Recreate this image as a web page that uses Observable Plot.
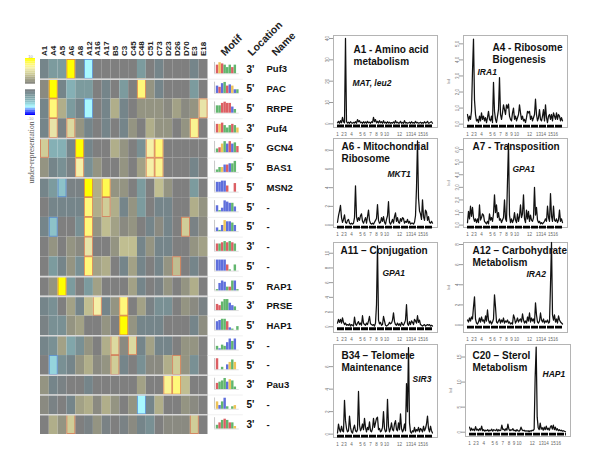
<!DOCTYPE html>
<html>
<head>
<meta charset="utf-8">
<script src="https://cdn.jsdelivr.net/npm/d3@7"></script>
<script src="https://cdn.jsdelivr.net/npm/@observablehq/plot@0.6"></script>
<style>
html,body{margin:0;padding:0;background:#fff}
#chart{position:relative;width:600px;height:450px;overflow:hidden}
#chart svg{position:absolute}
</style>
</head>
<body>
<div id="chart"></div>
<script>
const columns = ["A1","A4","A5","A6","A8","A12","A16","A17","B5","C3","C45","C48","C51","C73","D23","D26","D70","E3","E18"];
const locations = ["3'","5'","5'","3'","5'","5'","5'","5'","5'","3'","5'","5'","3'","5'","5'","5'","3'","5'","3'"];
const names = ["Puf3","PAC","RRPE","Puf4","GCN4","BAS1","MSN2","-","-","-","-","RAP1","PRSE","HAP1","-","-","Pau3","-","-"];
const heat = [
[-1,-2,-2,7,-1,-5,0,0,0,0,0,-2,0,-1,0,0,0,-1,0],
[.5,7,-1,-3,-2,-2,0,-1,0,-2,0,5.5,1,-1,0,0,0,-2,0],
[-1,5.5,2,-2,-1,-5,0,-1,2,-1,0,1,1,1,.5,1.5,.5,1,4],
[-1,4,-.5,3.5,1,-1,0,-1,0,-1,1,0,2,1,1,0,1,5,0],
[3,-3,-3,-1,7,-1,0,0,2,1,0,-1.5,4.5,5.5,0,0,0,0,0],
[1,-1,-1.5,-.5,4.5,-1.5,1,0,0,1,0,1.5,4.5,5,0,0,0,-1,0],
[-1,-2,-3.5,-.5,-.5,7,2,6,1,1,0,-2,0,2.5,1,0,0,-2,0],
[0,-1,-1,-1,-1,5.5,2,3,2,-1,1,-2,0,-1,-1,0,0,2,1],
[-1,-3.5,0,0,-1.5,5.5,1,2.5,1.5,.5,1,0,-1,.5,-1,0,3,-.5,.5],
[0,1,0,1,.5,4,0,0,1,2.5,2.5,-1,1,-1,-1,0,0,1,1.5],
[0,-2,-1,1,-1.5,5.5,1.5,2,0,-1,1.5,-1,0,-1,1,2.5,0,-1,0],
[0,1,7,-2,0,-2,1.5,0,0,0,1.5,-1,0,-.5,1,0,1,2,0],
[-1,-1.5,0,1.5,-1,2.5,4.5,-1,1,5.5,0,1.5,-.5,-1.5,-1.5,0,1,.5,-.5],
[-.5,-1.5,-1.5,1,1.5,0,0,1,0,7,1,-1,-1,-1,0,0,0,-1,.7],
[-1,-1.5,1.5,-2.5,-1.5,1,0,2,3.5,.5,3.5,-1,1.5,-1,-1,0,1,1,0],
[0,-4,-1.5,-1,1,2,.5,1,3,-1,0,-1.5,.5,.5,2,3,1,-1.5,0],
[1,-1,-.5,0,0,-1,0,0,0,0,0,1.5,0,0,5,5.5,2.5,0,0],
[.5,-.5,0,-1,1.5,2,.5,2,1,0,1,-5,-1,2,0,0,1,.5,0],
[0,2,1,3,0,-.5,1,-.5,0,-.5,.5,-1,-1.5,0,.5,.5,.5,3,0]
];
const overCells = [[0,3],[1,1],[1,11],[2,1],[2,18],[3,1],[3,3],[3,17],[4,0],[4,4],[4,12],[4,13],[5,4],[5,12],[5,13],[6,5],[6,7],[7,5],[7,7],[8,5],[8,16],[9,5],[10,5],[10,15],[11,2],[12,6],[12,9],[13,9],[14,8],[14,10],[15,8],[15,15],[16,14],[16,15],[18,3],[18,17]];
const underCells = [[0,5],[2,5],[6,2],[8,1],[15,1],[17,11]];
const groupEnds = [1,4,6,11,12,14,16,17,18];
const heatStops = [-7,-6,-5,-4,-3,-2,-1,0,1,2,3,4,4.5,5.5,7];
const heatColors = ["#0000ff","#5070ff","#a8f8ff","#95d4dc","#85b0b5","#7c9b9e","#75858a","#7f7f7f","#949482","#b0ae8a","#d0cd98","#e8e4a8","#f5f0a8","#fff87a","#ffff00"];
const legendLevels = [7,6.5,6,5.5,5,4.5,4,3.5,3,2.5,2,1.5,1,.5,null,null,null,-.5,-1,-1.5,-2,-2.5,-3,-3.5,-4,-4.5,-5,-5.5,-6,-6.5,-7];

const logoLetters = ["TGTAAATA.","CTCATCGCA","AATTTTCA.","TGTAAATAG","ATGACTCAT","AAGCTCAA.","CCCCT..T.","CACCCCAC.","CACGCCAC.","TATATATA.","CCCCTA.A.","ACCCATACA","TTAAACCA.","CCAATCA.A","ACAACCAC.","T.A.CGAG.","TAAACGAA.","GCACA.AG.","ATATATAG."];
const logoHeights = ["798757573","658967633","668988532","778646764","347979785","244667793","889951170","513987740","315988750","667878760","999951250","168733881","547996430","789972153","314369790","912146863","567968720","636921233","357875520"];
const logoColors = {A:"#2e9e3e",C:"#2a3fd0",G:"#e8b020",T:"#d02a30"};

const chromTicks = [4,9,12,18,27,31,37,43,48,53,66,75,80,87,92];
const chromLabels = ["1","2","3","4","5","6","7","8","9","10","12","13","14","15","16"];

const a1 = [.5,1.2,.3,1.5,.5,3,1,.5,40,1,.4,.8,.3,1,.5,.3,.7,.4,1,.3,2,1,1.5,.5,.8,.3,1,.4,.9,.3,1.2,.5,.8,.3,1,.6,3,1,2,.5,1.2,.4,1.5,.5,1,.3,1.5,.4,.8,.3,1,.4,.8,.3,.6,.3,.9,.3,1.5,.5,.8,.3,.5,1.2,.3,.7,.3,1.5,.4,.6,.3,.5,.8,.3,1,.4,.6,.3,1.2,.5,.7,.3,.5,.8,.3,.6,.3,1,.4,.6,1.2,.3,.5,.8,1,.3];
const a4 = [.6,.2,.5,.3,.8,3.3,5.3,1.5,.6,.2,.3,.1,.5,.2,.7,.3,.5,.2,.4,.1,.4,.8,.3,.2,.5,.1,2.6,.8,.3,.1,.5,.9,2.9,.6,.3,.7,1.2,.9,.6,1.2,1,1.25,.5,.3,.2,.7,1,.3,.5,.2,.4,.6,1.2,.7,.3,.5,.2,.3,.1,.4,.8,.7,.8,.3,.5,.2,.4,.6,1.55,.6,.2,.4,.9,.3,.2,.5,.9,.2,1.2,.4,.1,.5,.6,.3,.6,.2,.7,.5,.3,.7,.3,.6,.5,.2,.4,.2];
const a6 = [.3,1,1.5,2.1,.8,.3,.6,1.1,.3,.2,.5,.6,.2,.1,.2,.1,.2,.8,4.2,.9,.4,.8,.5,1,1.2,.4,.2,.5,.8,.2,.9,1.6,.5,.2,.1,.2,.1,.3,.5,.7,2.2,.5,.2,.3,.8,.4,.9,.3,.1,.6,1,2.5,.3,.1,.3,.6,.2,.9,1.3,.4,.8,.3,.2,.7,.4,.8,.7,.2,.4,.3,.6,.2,.4,.1,.2,.2,.1,.3,1,4,9,2.9,1.5,1.2,.6,2.7,.9,.5,1.6,1.4,.5,.9,.3,.2,.4,.2];
const a7 = [.2,1.1,.5,1.5,.7,1.4,.6,.3,.5,.2,.5,.2,1.6,.4,.6,.9,.8,.3,.2,.1,.3,.1,.9,.4,.6,.3,.9,2.4,1,1.6,.6,1,.4,.5,.2,.4,.6,2,.5,.3,3.5,6.5,.8,.2,.5,.2,.4,1,.4,.2,.9,.3,.7,1.6,.6,.9,2.4,.5,.2,1.2,.5,1.1,.3,.8,.4,.3,.6,3,.8,1.4,.4,.2,.3,.1,.2,.1,.2,.3,.5,.3,1.5,.6,.3,2.5,.7,.3,1.5,.4,.3,.5,.2,.4,1.2,.3,.5,.2];
const a11 = [.5,1,.6,1,.5,1.2,.6,.3,.5,.2,.3,.2,.4,.1,.3,.2,.1,1.3,.4,.2,.5,.7,.3,.5,.2,1.5,.5,.3,.2,.5,.3,.8,1.4,.4,.3,.2,.3,.1,.5,3,11,.9,.4,.6,.2,.3,1.4,.8,.2,.1,.2,.3,.6,.4,.5,.9,1.9,.7,.3,.2,.5,.2,.4,.1,.6,.3,.2,.5,.9,3,.4,.2,.7,.3,.8,.6,.3,1,.8,.5,1.5,.6,.9,.3,.2,.1,.2,.3,.1,.2,.3,.2,.3,.1,.2,.1];
const a12 = [.5,.3,.7,.4,.8,.6,1.8,2.8,.6,.2,.1,.3,.7,.3,.8,.4,.5,.2,.9,.4,1.5,.5,.2,.4,.1,.3,.6,3,1.8,.3,.2,.4,.6,.2,.5,.3,.7,.2,.4,.3,.5,.2,.3,.1,.2,.1,1,.7,.2,.4,.7,.3,.5,.6,.3,1.1,.5,.2,.4,.2,.8,.4,1.2,.3,.7,.4,.6,.2,2.2,1,.3,.2,.4,1.2,.5,.3,.6,.2,.4,.3,.5,.2,.3,4,8.2,1,.5,1,.3,.6,.2,.9,.5,.3,.2,.1];
const b34 = [.1,.9,.4,.2,.7,.3,.2,3,1.2,.5,.2,.3,1.6,.6,.2,.1,.5,.8,.3,.2,.4,3.8,.8,.3,.5,.9,.4,1.4,.6,.2,.6,.4,1.1,.3,.2,.5,1.4,.6,1,1.4,1.5,.4,.5,.2,.3,.6,2,.5,.2,.3,3.1,.7,.2,.5,1,.4,.3,.9,1.2,.4,.3,1,.4,1.8,.5,.2,.4,.9,.3,4.5,2,7.7,1,.2,.1,.3,.2,.6,.2,.4,.3,.6,.2,.5,.4,.2,.7,.3,.5,.9,1.6,.5,.2,.7,.3,.1];
const c20 = [1,.3,.8,.4,.6,.3,1.1,.4,.6,.3,.7,.4,1.2,.3,.5,.2,.4,.3,.5,.2,.4,.3,.6,.2,.5,.4,.3,.6,.2,.5,.3,.4,1.4,.5,.6,.3,.7,.4,1.6,.6,.3,.5,.4,.7,.3,.4,.2,.5,.3,.2,.4,1,.5,.3,.4,.2,.3,.2,.3,.1,.3,.2,.4,.3,.6,11,17,3,.9,.5,1.8,.6,.9,.4,1,.5,1.2,.5,.8,.4,1,1.3,.6,1.4,.5,1,.4,.7,.3,.5,.3,.4,.2,.3,.2,.1];

const panels = [
 {series:a1, title:["A1 - Amino acid","metabolism"], gene:"MAT, leu2", l:333,r:437,t:35,b:127, y:[-1.7,41.4], ticks:[0,10,20,30,40], tx:20,ty:[17,29], gx:19,gy:50},
 {series:a4, title:["A4 - Ribosome","Biogenesis"], gene:"IRA1", yLabel:true, l:463,r:567,t:35,b:127, y:[-.21,5.52], ticks:[0,1,2,3,4,5], tx:29,ty:[15,27], gx:14,gy:39},
 {series:a6, title:["A6 - Mitochondrial","Ribosome"], gene:"MKT1", l:333,r:437,t:138,b:227, y:[-.26,9.26], ticks:[0,2,4,6,8], tx:8,ty:[11,23], gx:54,gy:38},
 {series:a7, title:["A7 - Transposition"], gene:"GPA1", yLabel:true, l:463,r:567,t:138,b:227, y:[-.19,6.88], ticks:[0,1,2,3,4,5,6], tx:9,ty:[11], gx:49,gy:33},
 {series:a11, title:["A11 \u2013 Conjugation"], gene:"GPA1", l:333,r:437,t:242,b:332, y:[-.78,11.46], ticks:[0,2,4,6,8,10], tx:7,ty:[11], gx:49,gy:33},
 {series:a12, title:["A12 \u2013 Carbohydrate","Metabolism"], gene:"IRA2", yLabel:true, l:463,r:567,t:242,b:332, y:[-.74,8.2], ticks:[0,2,4,6,8], tx:9,ty:[11,23], gx:63,gy:34},
 {series:b34, title:["B34 \u2013 Telomere","Maintenance"], gene:"SIR3", l:333,r:437,t:344,b:437, y:[-.3,7.97], ticks:[0,2,4,6], tx:8,ty:[14,26], gx:79,gy:37},
 {series:c20, title:["C20 \u2013 Sterol","Metabolism"], gene:"HAP1", yLabel:true, l:465,r:570,t:344,b:436, y:[-.86,17.5], ticks:[0,5,10,15], tx:7,ty:[14,26], gx:77,gy:32}
];

const root = document.getElementById("chart");
const sans = "Liberation Sans, Arial, sans-serif";
const colorOpt = {type:"linear", domain:heatStops, range:heatColors};
function place(svg, left, top){ svg.style.left = left+"px"; svg.style.top = top+"px"; root.appendChild(svg); }

const cells = heat.flatMap((row,r)=>row.map((v,c)=>({r,c,v})));
const boxes = a => a.map(([r,c])=>({r,c}));
const rectBox = {x1:d=>d.c, x2:d=>d.c+1, y1:d=>d.r, y2:d=>d.r+1};
const headers = [["Motif",184.5],["Location",211.5],["Name",235.5]];

const main = Plot.plot({
  width:600, height:450, marginLeft:40, marginRight:392.5, marginTop:59, marginBottom:16,
  style:{background:"transparent", overflow:"visible"},
  x:{domain:[0,19], axis:null}, y:{domain:[19,0], axis:null}, color:colorOpt,
  marks:[
    Plot.rect(cells,{...rectBox, fill:"v"}),
    Plot.rect(boxes(overCells),{...rectBox, stroke:"#d2694a", strokeWidth:.8, strokeOpacity:.85, inset:.4}),
    Plot.rect(boxes(underCells),{...rectBox, stroke:"#4a78c8", strokeWidth:.8, strokeOpacity:.85, inset:.4}),
    Plot.ruleY(groupEnds,{x1:0,x2:19,stroke:"#d8d8d8",strokeWidth:1.6}),
    Plot.ruleY(d3.range(1,19),{x1:19,x2:23,stroke:"#ececec",strokeWidth:.8}),
    Plot.text(columns,{x:(d,i)=>i+.5,y:0,dy:-3.5,rotate:-90,textAnchor:"start",fontFamily:sans,fontWeight:"bold",fontSize:8,fill:"#222"}),
    Plot.text(locations,{x:19,dx:38.5,y:(d,i)=>i+.5,textAnchor:"start",fontFamily:sans,fontWeight:"bold",fontSize:10,fill:"#111"}),
    Plot.text(names,{x:19,dx:58.5,y:(d,i)=>i+.5,textAnchor:"start",fontFamily:sans,fontWeight:"bold",fontSize:9.5,fill:"#111"}),
    ...headers.map(([h,dx])=>Plot.text([h],{frameAnchor:"top-left",dx,dy:-3,rotate:-45,textAnchor:"start",lineAnchor:"bottom",fontFamily:sans,fontWeight:"bold",fontSize:10.5,fill:"#222"})),
    Plot.text(["under-representation"],{frameAnchor:"top-left",dx:-9,dy:93,rotate:-90,textAnchor:"middle",lineAnchor:"middle",fontFamily:"Liberation Serif, serif",fontSize:7.5,fill:"#555"}),
    Plot.text(["10"],{frameAnchor:"top-left",dx:-10,dy:-4,textAnchor:"middle",fontFamily:sans,fontSize:4,fill:"#999"}),
    Plot.text(["-10"],{frameAnchor:"top-left",dx:-10,dy:58,textAnchor:"middle",fontFamily:sans,fontSize:4,fill:"#999"})
  ]
});
place(main,0,0);

const legend = Plot.plot({
  width:10, height:57, margin:0,
  style:{background:"transparent"},
  x:{domain:[0,1],axis:null}, y:{domain:[legendLevels.length,0],axis:null}, color:colorOpt,
  marks:[Plot.rect(legendLevels.map((v,i)=>({v,i})).filter(d=>d.v!==null),{x1:0,x2:1,y1:"i",y2:d=>d.i+1,fill:"v"})]
});
place(legend,25,58);

const logoCells = logoLetters.flatMap((s,row)=>[...s].map((ch,p)=>({row,p,ch,h:+logoHeights[row][p]})).filter(d=>d.ch!=="."&&d.h>0));
const logo = Plot.plot({
  width:28, height:375, margin:0,
  style:{background:"transparent", overflow:"visible", filter:"blur(0.4px)"},
  x:{domain:[-1.5,9.5],axis:null}, y:{domain:[19,0],axis:null},
  marks:[
    Plot.ruleX(d3.range(19),{x:-.7,y1:d=>d+.15,y2:d=>d+.72,stroke:"#b0b0b0",strokeWidth:.7}),
    Plot.ruleY(d3.range(19),{y:d=>d+.72,x1:-.7,x2:9,stroke:"#c8c8c8",strokeWidth:.6}),
    Plot.rect(logoCells,{x1:"p",x2:d=>d.p+.95,y1:d=>d.row+.72,y2:d=>d.row+.72-d.h*.062,fill:d=>logoColors[d.ch],fillOpacity:.75})
  ]
});
place(logo,212,59);

for (const p of panels) {
  const ml=14, mt=4, mr=2, mb=12;
  const w=p.r-p.l, h=p.b-p.t;
  const pts = p.series.map((v,i)=>({x:i+4,v}));
  const plot = Plot.plot({
    width:w+ml+mr, height:h+mt+mb, marginLeft:ml, marginTop:mt, marginRight:mr, marginBottom:mb,
    style:{background:"transparent", overflow:"visible"},
    x:{domain:[0,104]}, y:{domain:p.y},
    marks:[
      Plot.frame({stroke:"#b4b4b4",strokeWidth:1}),
      Plot.axisX({ticks:chromTicks,tickFormat:(d,i)=>chromLabels[i],tickSize:0,tickPadding:5,fontSize:4.5,fill:"#666",label:null,fontFamily:sans}),
      Plot.axisY({ticks:p.ticks,tickSize:4,tickPadding:1,tickRotate:-90,fontSize:4.5,fill:"#777",stroke:"#999",label:null,fontFamily:sans}),
      Plot.line(pts,{x:"x",y:"v",stroke:"#111",strokeWidth:1.25}),
      Plot.ruleY([0],{x1:4,x2:100,dy:2,stroke:"#000",strokeWidth:2.8,strokeDasharray:"7 1"}),
      ...p.title.map((line,i)=>Plot.text([line],{frameAnchor:"top-left",dx:p.tx,dy:p.ty[i],textAnchor:"start",lineAnchor:"bottom",fontFamily:sans,fontWeight:"bold",fontSize:10,fill:"#111"})),
      Plot.text([p.gene],{frameAnchor:"top-left",dx:p.gx,dy:p.gy,textAnchor:"start",lineAnchor:"bottom",fontFamily:sans,fontWeight:"bold",fontStyle:"italic",fontSize:8.5,fill:"#111"}),
      ...(p.yLabel ? [Plot.text(["lod"],{frameAnchor:"left",dx:-15,rotate:-90,textAnchor:"middle",fontFamily:sans,fontSize:4,fill:"#888"})] : [])
    ]
  });
  place(plot,p.l-ml,p.t-mt);
}
</script>
</body>
</html>
